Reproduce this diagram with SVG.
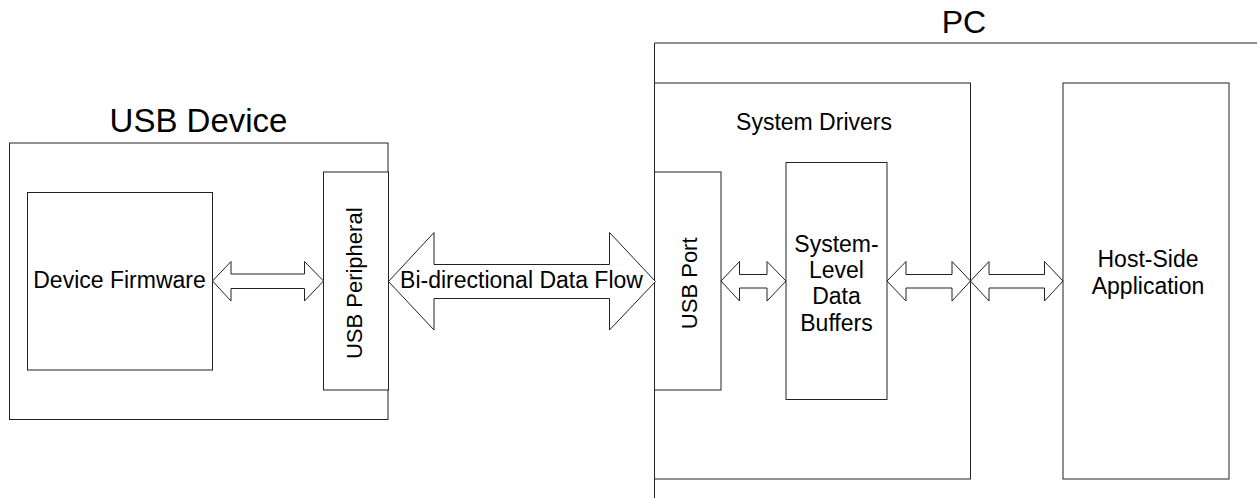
<svg xmlns="http://www.w3.org/2000/svg" width="1257" height="498" viewBox="0 0 1257 498">
<style>
.box{fill:#fff;stroke:#222;stroke-width:1}
.line{fill:none;stroke:#222;stroke-width:1}
.arr{fill:#fff;stroke:#222;stroke-width:1;stroke-linejoin:miter}
text{font-family:"Liberation Sans",Arial,sans-serif;fill:#000}
.t{font-size:23px;text-anchor:middle}
.title{font-size:33px;text-anchor:middle}
</style>
<rect width="1257" height="498" fill="#fff"/>
<g id="usb-device">
<rect class="box" x="9.5" y="143" width="378.5" height="276.5"/>
<text class="title" x="198.5" y="132.3">USB Device</text>
</g>
<g id="device-firmware">
<rect class="box" x="27.5" y="192.5" width="185" height="177.5"/>
<text class="t" x="119.5" y="288.3">Device Firmware</text>
</g>
<g id="usb-peripheral">
<rect class="box" x="323.5" y="172" width="65" height="218"/>
<text class="t" transform="translate(361.7,283.3) rotate(-90)" x="0" y="0" style="font-size:22px">USB Peripheral</text>
</g>
<g id="pc">
<path class="line" d="M1257,43H654.5V498"/>
<text class="title" x="964" y="32.7" style="font-size:32px">PC</text>
</g>
<g id="system-drivers">
<rect class="box" x="654.5" y="83" width="316" height="396"/>
<text class="t" x="814" y="130">System Drivers</text>
</g>
<g id="usb-port">
<rect class="box" x="654.5" y="172" width="66.5" height="218"/>
<text class="t" transform="translate(697.3,283.3) rotate(-90)" x="0" y="0" style="font-size:22px">USB Port</text>
</g>
<g id="data-buffers">
<rect class="box" x="786" y="162.5" width="101" height="237"/>
<text class="t" x="836.5" y="251.7">System-</text>
<text class="t" x="836.5" y="278.3">Level</text>
<text class="t" x="836.5" y="304.3">Data</text>
<text class="t" x="836.5" y="331">Buffers</text>
</g>
<g id="host-application">
<rect class="box" x="1063" y="83" width="166" height="396"/>
<text class="t" x="1148" y="267.3">Host-Side</text>
<text class="t" x="1148" y="294">Application</text>
</g>
<g id="connectors">
<polygon class="arr" points="212.5,281 231,261.5 231,274 304.5,274 304.5,261.5 323.5,281 304.5,301 304.5,288.5 231,288.5 231,301"/>
<polygon class="arr" points="388.5,281.5 434,232.5 434,264.5 609.5,264.5 609.5,232.5 655.5,281.5 609.5,330 609.5,298.5 434,298.5 434,330"/>
<polygon class="arr" points="721,281 739.5,261.5 739.5,274.5 767,274.5 767,261.5 786,281 767,301 767,288 739.5,288 739.5,301"/>
<polygon class="arr" points="887,281 906,261.5 906,274.5 952,274.5 952,261.5 970.5,281 952,301 952,288 906,288 906,301"/>
<polygon class="arr" points="970.5,281 989,261.5 989,274.5 1044.5,274.5 1044.5,261.5 1063,281 1044.5,301 1044.5,288 989,288 989,301"/>
<text class="t" x="521.5" y="288.3">Bi-directional Data Flow</text>
</g>
</svg>
